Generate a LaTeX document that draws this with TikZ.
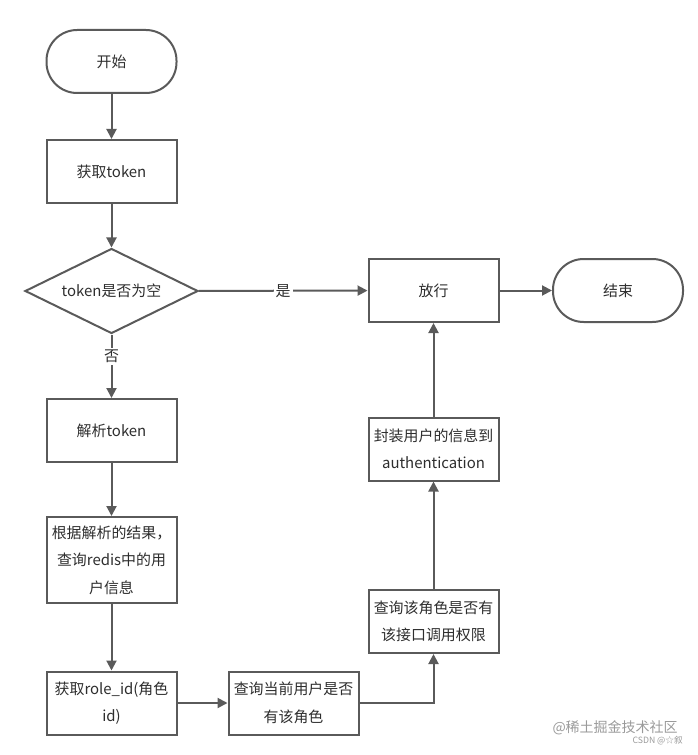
\documentclass[tikz,border=0pt]{standalone}
\usepackage{fontspec}
\setmainfont{Noto Sans CJK SC}
\usetikzlibrary{arrows.meta,shapes.geometric}
\definecolor{linegray}{HTML}{5A5A5A}
\definecolor{txtgray}{HTML}{2E2E2E}
\definecolor{wmgray}{HTML}{9A9A9A}
\begin{document}
\begin{tikzpicture}[x=0.75pt,y=-0.75pt,
  every node/.style={text=txtgray, font=\fontsize{11.2pt}{20.5pt}\selectfont},
  box/.style={draw=linegray, line width=1.5pt, fill=white, rectangle, minimum width=97.5pt, minimum height=47.25pt, inner sep=0.5pt, align=center},
  pill/.style={box, rounded corners=23pt},
  decision/.style={draw=linegray, line width=1.5pt, diamond, aspect=2, inner sep=0pt, minimum width=129.75pt, minimum height=63.75pt},
  arr/.style={draw=linegray, line width=1.5pt, -{Triangle[length=7.5pt,width=7.5pt]}},
  elabel/.style={fill=white, inner sep=1.5pt},
  wm/.style={text=wmgray, inner sep=0pt}
]
\useasboundingbox (0,0) rectangle (697,755);
\node[pill] (start) at (111.5,61.5) {开始};
\node[box] (gettoken) at (111.5,171.5) {获取token};
\node[decision, label={center:token是否为空}] (isnull) at (111.5,291) {};
\node[box] (parse) at (111.5,430.5) {解析token};
\node[box, minimum height=64.5pt] (query) at (111.5,560) {根据解析的结果，\\查询redis中的用\\户信息};
\node[box] (roleid) at (111.5,703) {获取role\_id(角色\\id)};
\node[box] (hasrole) at (293.5,703) {查询当前用户是否\\有该角色};
\node[box] (perm) at (433.5,621.5) {查询该角色是否有\\该接口调用权限};
\node[box] (auth) at (433.5,449) {封装用户的信息到\\authentication};
\node[box] (pass) at (433.5,290.5) {放行};
\node[pill] (finish) at (618,290.5) {结束};

\draw[arr] (start) -- (gettoken);
\draw[arr] (gettoken) -- (isnull);
\draw[arr] (isnull) -- node[elabel, pos=0.35] (nolabel) {否} (parse);
\draw[arr] (isnull) -- node[elabel] (yeslabel) {是} (pass);
\draw[arr] (parse) -- (query);
\draw[arr] (query) -- (roleid);
\draw[arr] (roleid) -- (hasrole);
\draw[arr] (hasrole.east) -| (perm.south);
\draw[arr] (perm) -- (auth);
\draw[arr] (auth) -- (pass);
\draw[arr] (pass) -- (finish);

\node[wm, font=\fontsize{10.5pt}{12pt}\selectfont, anchor=east] (wm1) at (678,728) {@稀土掘金技术社区};
\node[wm, font=\fontsize{6.5pt}{8pt}\selectfont, anchor=east] (wm2) at (683,741) {CSDN @☆叙};
\end{tikzpicture}
\end{document}
